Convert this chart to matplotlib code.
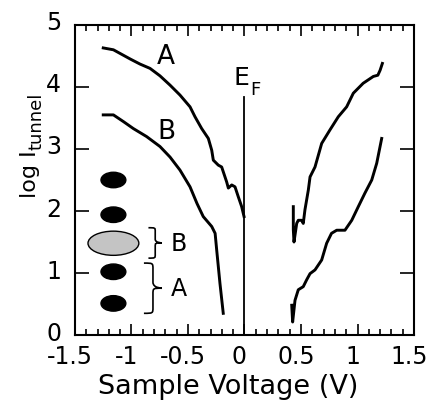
import numpy as np
import matplotlib
matplotlib.use('Agg')
import matplotlib.pyplot as plt
import matplotlib.transforms as mtransforms
from matplotlib.patches import Ellipse, PathPatch
from matplotlib.path import Path
from matplotlib.ticker import MultipleLocator

plt.rcParams['font.family'] = ['DejaVu Sans']

# curve A, negative bias
a_neg_v = [-1.25, -1.16, -1.10, -1.01, -0.925, -0.836, -0.748, -0.659, -0.571,
           -0.482, -0.438, -0.379, -0.32, -0.29, -0.276, -0.232, -0.202, -0.158,
           -0.143, -0.113, -0.084, -0.055, -0.025, -0.004]
a_neg_i = [4.63, 4.60, 4.54, 4.45, 4.37, 4.30, 4.18, 4.03, 3.87,
           3.68, 3.52, 3.33, 3.17, 2.98, 2.82, 2.74, 2.71, 2.47,
           2.37, 2.42, 2.39, 2.23, 2.07, 1.91]
# curve B, negative bias
b_neg_v = [-1.25, -1.16, -1.07, -0.984, -0.866, -0.748, -0.659, -0.571, -0.482,
           -0.42, -0.365, -0.29, -0.26, -0.246, -0.217, -0.188]
b_neg_i = [3.55, 3.55, 3.44, 3.33, 3.20, 3.04, 2.87, 2.66, 2.39,
           2.12, 1.91, 1.75, 1.64, 1.37, 0.83, 0.35]
# curve A, positive bias
a_pos_v = [0.432, 0.432, 0.438, 0.462, 0.476, 0.506, 0.52, 0.535, 0.565, 0.58,
           0.624, 0.683, 0.757, 0.83, 0.904, 0.963, 1.05, 1.14, 1.18, 1.20, 1.22]
a_pos_i = [2.07, 1.70, 1.50, 1.80, 1.85, 1.85, 1.80, 2.02, 2.34, 2.55,
           2.71, 3.09, 3.31, 3.52, 3.68, 3.90, 4.06, 4.17, 4.19, 4.27, 4.38]
# curve B, positive bias
b_pos_v = [0.418, 0.426, 0.447, 0.476, 0.52, 0.55, 0.58, 0.624, 0.683, 0.727,
           0.77, 0.816, 0.845, 0.889, 0.949, 1.007, 1.066, 1.126, 1.17, 1.214]
b_pos_i = [0.48, 0.21, 0.56, 0.73, 0.78, 0.89, 0.99, 1.05, 1.21, 1.48,
           1.64, 1.69, 1.69, 1.69, 1.85, 2.07, 2.29, 2.50, 2.77, 3.17]

ef_top = 3.84

# atom sketch: black spots and the gray one
dots_x = [-1.16, -1.16, -1.16, -1.16]
dots_y = [2.5, 1.94, 1.02, 0.51]
gray_x, gray_y = -1.16, 1.48

xticks = [-1.5, -1, -0.5, 0, 0.5, 1, 1.5]
xticklabels = ['-1.5', '-1', '-0.5', '0', '0.5', '1', '1.5']

fig = plt.figure(figsize=(4.3, 4.03), dpi=100)
ax = fig.add_axes([0.1744, 0.1687, 0.7884, 0.7693])

lw = 2.1
ax.plot(a_neg_v, a_neg_i, color='black', lw=lw, solid_joinstyle='round')
ax.plot(b_neg_v, b_neg_i, color='black', lw=lw, solid_joinstyle='round')
ax.plot(a_pos_v, a_pos_i, color='black', lw=lw, solid_joinstyle='round')
ax.plot(b_pos_v, b_pos_i, color='black', lw=lw, solid_joinstyle='round')
ax.plot([0, 0], [0, ef_top], color='black', lw=1.3)

for x, y in zip(dots_x, dots_y):
    ax.add_patch(Ellipse((x, y), 0.22, 0.25, facecolor='black', edgecolor='black'))
ax.add_patch(Ellipse((gray_x, gray_y), 0.45, 0.39, facecolor='#c4c4c4',
                     edgecolor='black', lw=1.0))


def brace(x0, yb, yt, w):
    ym = (yb + yt) / 2
    q = (yt - yb) * 0.12
    xm = x0 + w / 2
    verts = [(x0, yt), (xm, yt), (xm, yt), (xm, yt - q),
             (xm, ym + q),
             (xm, ym), (x0 + w, ym), (x0 + w, ym),
             (xm, ym), (xm, ym), (xm, ym - q),
             (xm, yb + q),
             (xm, yb), (xm, yb), (x0, yb)]
    codes = [Path.MOVETO, Path.CURVE4, Path.CURVE4, Path.CURVE4,
             Path.LINETO,
             Path.CURVE4, Path.CURVE4, Path.CURVE4,
             Path.CURVE4, Path.CURVE4, Path.CURVE4,
             Path.LINETO,
             Path.CURVE4, Path.CURVE4, Path.CURVE4]
    ax.add_patch(PathPatch(Path(verts, codes), fill=False, lw=1.2, color='black'))


brace(-0.85, 1.24, 1.73, 0.12)
brace(-0.89, 0.35, 1.16, 0.16)
ax.text(-0.58, 1.46, 'B', fontsize=17, ha='center', va='center')
ax.text(-0.58, 0.74, 'A', fontsize=17, ha='center', va='center')

ax.text(-0.695, 4.49, 'A', fontsize=19, ha='center', va='center')
ax.text(-0.695, 3.27, 'B', fontsize=19, ha='center', va='center')
ax.text(-0.095, 4.03, 'E', fontsize=18, ha='left', va='baseline')
ax.text(0.05, 3.87, 'F', fontsize=13, ha='left', va='baseline')

ax.set_xlim(-1.5, 1.5)
ax.set_ylim(0, 5)
ax.xaxis.set_minor_locator(MultipleLocator(0.1))
ax.yaxis.set_major_locator(MultipleLocator(1))
ax.set_xticks(xticks)
ax.set_xticklabels(xticklabels)
ax.tick_params(which='both', direction='in', top=True, right=True,
               labelsize=17, width=1.2, pad=7)
ax.tick_params(which='major', length=8)
ax.tick_params(which='minor', length=4)
ax.tick_params(axis='y', which='major', length=10, pad=10)
for s in ax.spines.values():
    s.set_linewidth(1.5)

# tick labels sit a bit off their ticks in the original
xshift = mtransforms.ScaledTranslation(-5 / 100, 0, fig.dpi_scale_trans)
for lab in ax.get_xticklabels():
    lab.set_transform(lab.get_transform() + xshift)
yshift = mtransforms.ScaledTranslation(0, 4 / 100, fig.dpi_scale_trans)
for lab in ax.get_yticklabels():
    lab.set_transform(lab.get_transform() + yshift)

ax.set_xlabel('Sample Voltage (V)', fontsize=19.5, va='baseline')
ax.xaxis.set_label_coords(0.453, -0.19)
# y label: main text plus a large subscript
fig.text(36 / 430, 1 - 198 / 403, 'log I', fontsize=16, rotation=90,
         rotation_mode='anchor', ha='left', va='baseline')
fig.text(41 / 430, 1 - 150 / 403, 'tunnel', fontsize=13, rotation=90,
         rotation_mode='anchor', ha='left', va='baseline')

fig.savefig('out.png', dpi=100)
